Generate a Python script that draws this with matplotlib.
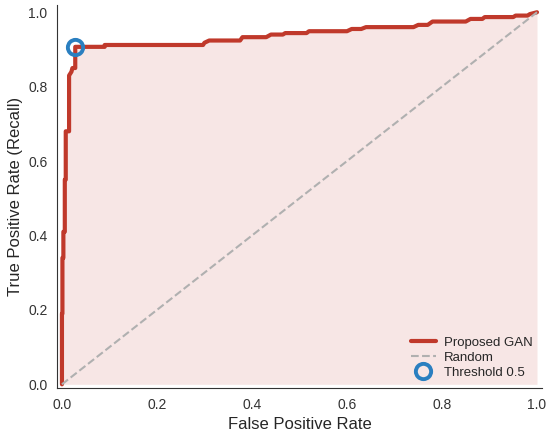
import numpy as np
import matplotlib
matplotlib.use("Agg")
import matplotlib.pyplot as plt
import seaborn as sns

# ROC curve points
fpr = [0.0, 0.0, 0.001, 0.001, 0.003, 0.003, 0.006, 0.006, 0.008, 0.008,
       0.015, 0.015, 0.020, 0.022, 0.028, 0.028, 0.090, 0.090, 0.297, 0.300,
       0.310, 0.375, 0.380, 0.430, 0.440, 0.465, 0.470, 0.515, 0.520, 0.600,
       0.610, 0.630, 0.640, 0.740, 0.750, 0.770, 0.780, 0.850, 0.860, 0.885,
       0.890, 0.950, 0.955, 0.980, 0.985, 1.0]
tpr = [0.0, 0.19, 0.19, 0.34, 0.34, 0.41, 0.41, 0.55, 0.55, 0.68,
       0.68, 0.83, 0.84, 0.85, 0.85, 0.907, 0.907, 0.912, 0.912, 0.918,
       0.924, 0.924, 0.933, 0.933, 0.940, 0.940, 0.944, 0.944, 0.949, 0.949,
       0.955, 0.955, 0.960, 0.960, 0.966, 0.966, 0.975, 0.975, 0.982, 0.982,
       0.987, 0.987, 0.991, 0.991, 0.995, 1.0]
thr_point = (0.028, 0.907)

sns.set_style("white")
plt.rcParams['font.family'] = ['Liberation Sans', 'DejaVu Sans']

fig = plt.figure(figsize=(5.5, 4.36), dpi=100)
ax = fig.add_axes([0.104, 0.11, 0.881, 0.879])

red = '#c0392b'
ax.fill_between(fpr, tpr, color=red, alpha=0.12, lw=0)
ax.plot(fpr, tpr, color=red, lw=3, label='Proposed GAN')
ax.plot([0, 1], [0, 1], ls='--', color='#b0b0b0', lw=1.5, label='Random')
ax.plot(thr_point[0], thr_point[1], 'o', ms=11, mfc='none', mec='#2a7fc0',
        mew=2.8, label='Threshold 0.5')

ax.set_xlim(-0.01, 1.01)
ax.set_ylim(-0.01, 1.02)
ax.set_xlabel('False Positive Rate', fontsize=12)
ax.set_ylabel('True Positive Rate (Recall)', fontsize=12)
ax.tick_params(labelsize=10, labelcolor='#333333')
sns.despine(ax=ax)
ax.spines['left'].set_color('#333333')
ax.spines['bottom'].set_color('#333333')

ax.legend(loc='lower right', frameon=False, fontsize=9.5, handlelength=1.9,
          handletextpad=0.6, borderaxespad=0.3, labelspacing=0.2)

fig.savefig('out.png', dpi=100)
